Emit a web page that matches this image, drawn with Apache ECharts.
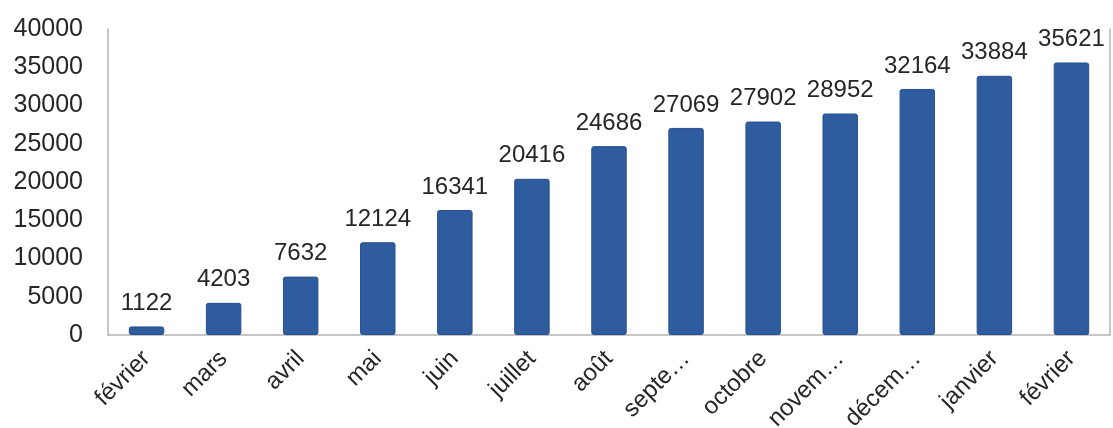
<!DOCTYPE html>
<html>
<head>
<meta charset="utf-8">
<script src="https://cdn.jsdelivr.net/npm/echarts@6/dist/echarts.min.js"></script>
<style>
  html, body { margin: 0; padding: 0; background: #fff; }
  #chart { width: 1113px; height: 428px; }
</style>
</head>
<body>
<div id="chart"></div>
<script>
// Monthly cumulative totals
const months = ['février', 'mars', 'avril', 'mai', 'juin', 'juillet', 'août',
  'septe…', 'octobre', 'novem…', 'décem…', 'janvier', 'février'];
const totals = [1122, 4203, 7632, 12124, 16341, 20416, 24686,
  27069, 27902, 28952, 32164, 33884, 35621];
const yTicks = { min: 0, max: 40000, step: 5000 };

const FONT = '"Liberation Sans", Arial, sans-serif';
const frameColor = '#b4b4b4';

const chart = echarts.init(document.getElementById('chart'), null, { renderer: 'canvas' });
chart.setOption({
  animation: false,
  backgroundColor: '#ffffff',
  grid: { left: 108, right: 3, top: 29, bottom: 93, outerBoundsMode: 'none' },
  xAxis: [
    {
      type: 'category',
      data: months,
      axisLine: { show: false },
      axisTick: { show: false },
      axisLabel: {
        rotate: 45,
        interval: 0,
        margin: 20,
        color: '#262626',
        fontFamily: FONT,
        fontSize: 24
      }
    },
    {
      // frame line across the top of the plot
      type: 'category',
      position: 'top',
      data: months,
      axisLine: { show: true, lineStyle: { color: frameColor, width: 1.5 } },
      axisTick: { show: false },
      axisLabel: { show: false }
    }
  ],
  yAxis: [
    {
      type: 'value',
      min: yTicks.min,
      max: yTicks.max,
      interval: yTicks.step,
      splitLine: { show: false },
      axisLine: { show: true, lineStyle: { color: frameColor, width: 1.5 } },
      axisTick: { show: false },
      axisLabel: {
        margin: 25,
        color: '#262626',
        fontFamily: FONT,
        fontSize: 25,
        formatter: (v) => String(v)
      }
    },
    {
      // frame line on the right side of the plot
      type: 'value',
      position: 'right',
      min: yTicks.min,
      max: yTicks.max,
      interval: yTicks.step,
      splitLine: { show: false },
      axisLine: { show: true, lineStyle: { color: frameColor, width: 1.5 } },
      axisTick: { show: false },
      axisLabel: { show: false }
    }
  ],
  series: [{
    type: 'bar',
    data: totals,
    barWidth: '46%',
    itemStyle: {
      color: '#2e5c9e',
      borderColor: '#26508c',
      borderWidth: 1,
      borderRadius: 2
    },
    label: {
      show: true,
      position: 'top',
      distance: 11,
      color: '#262626',
      fontFamily: FONT,
      fontSize: 24
    }
  }]
});
</script>
</body>
</html>
